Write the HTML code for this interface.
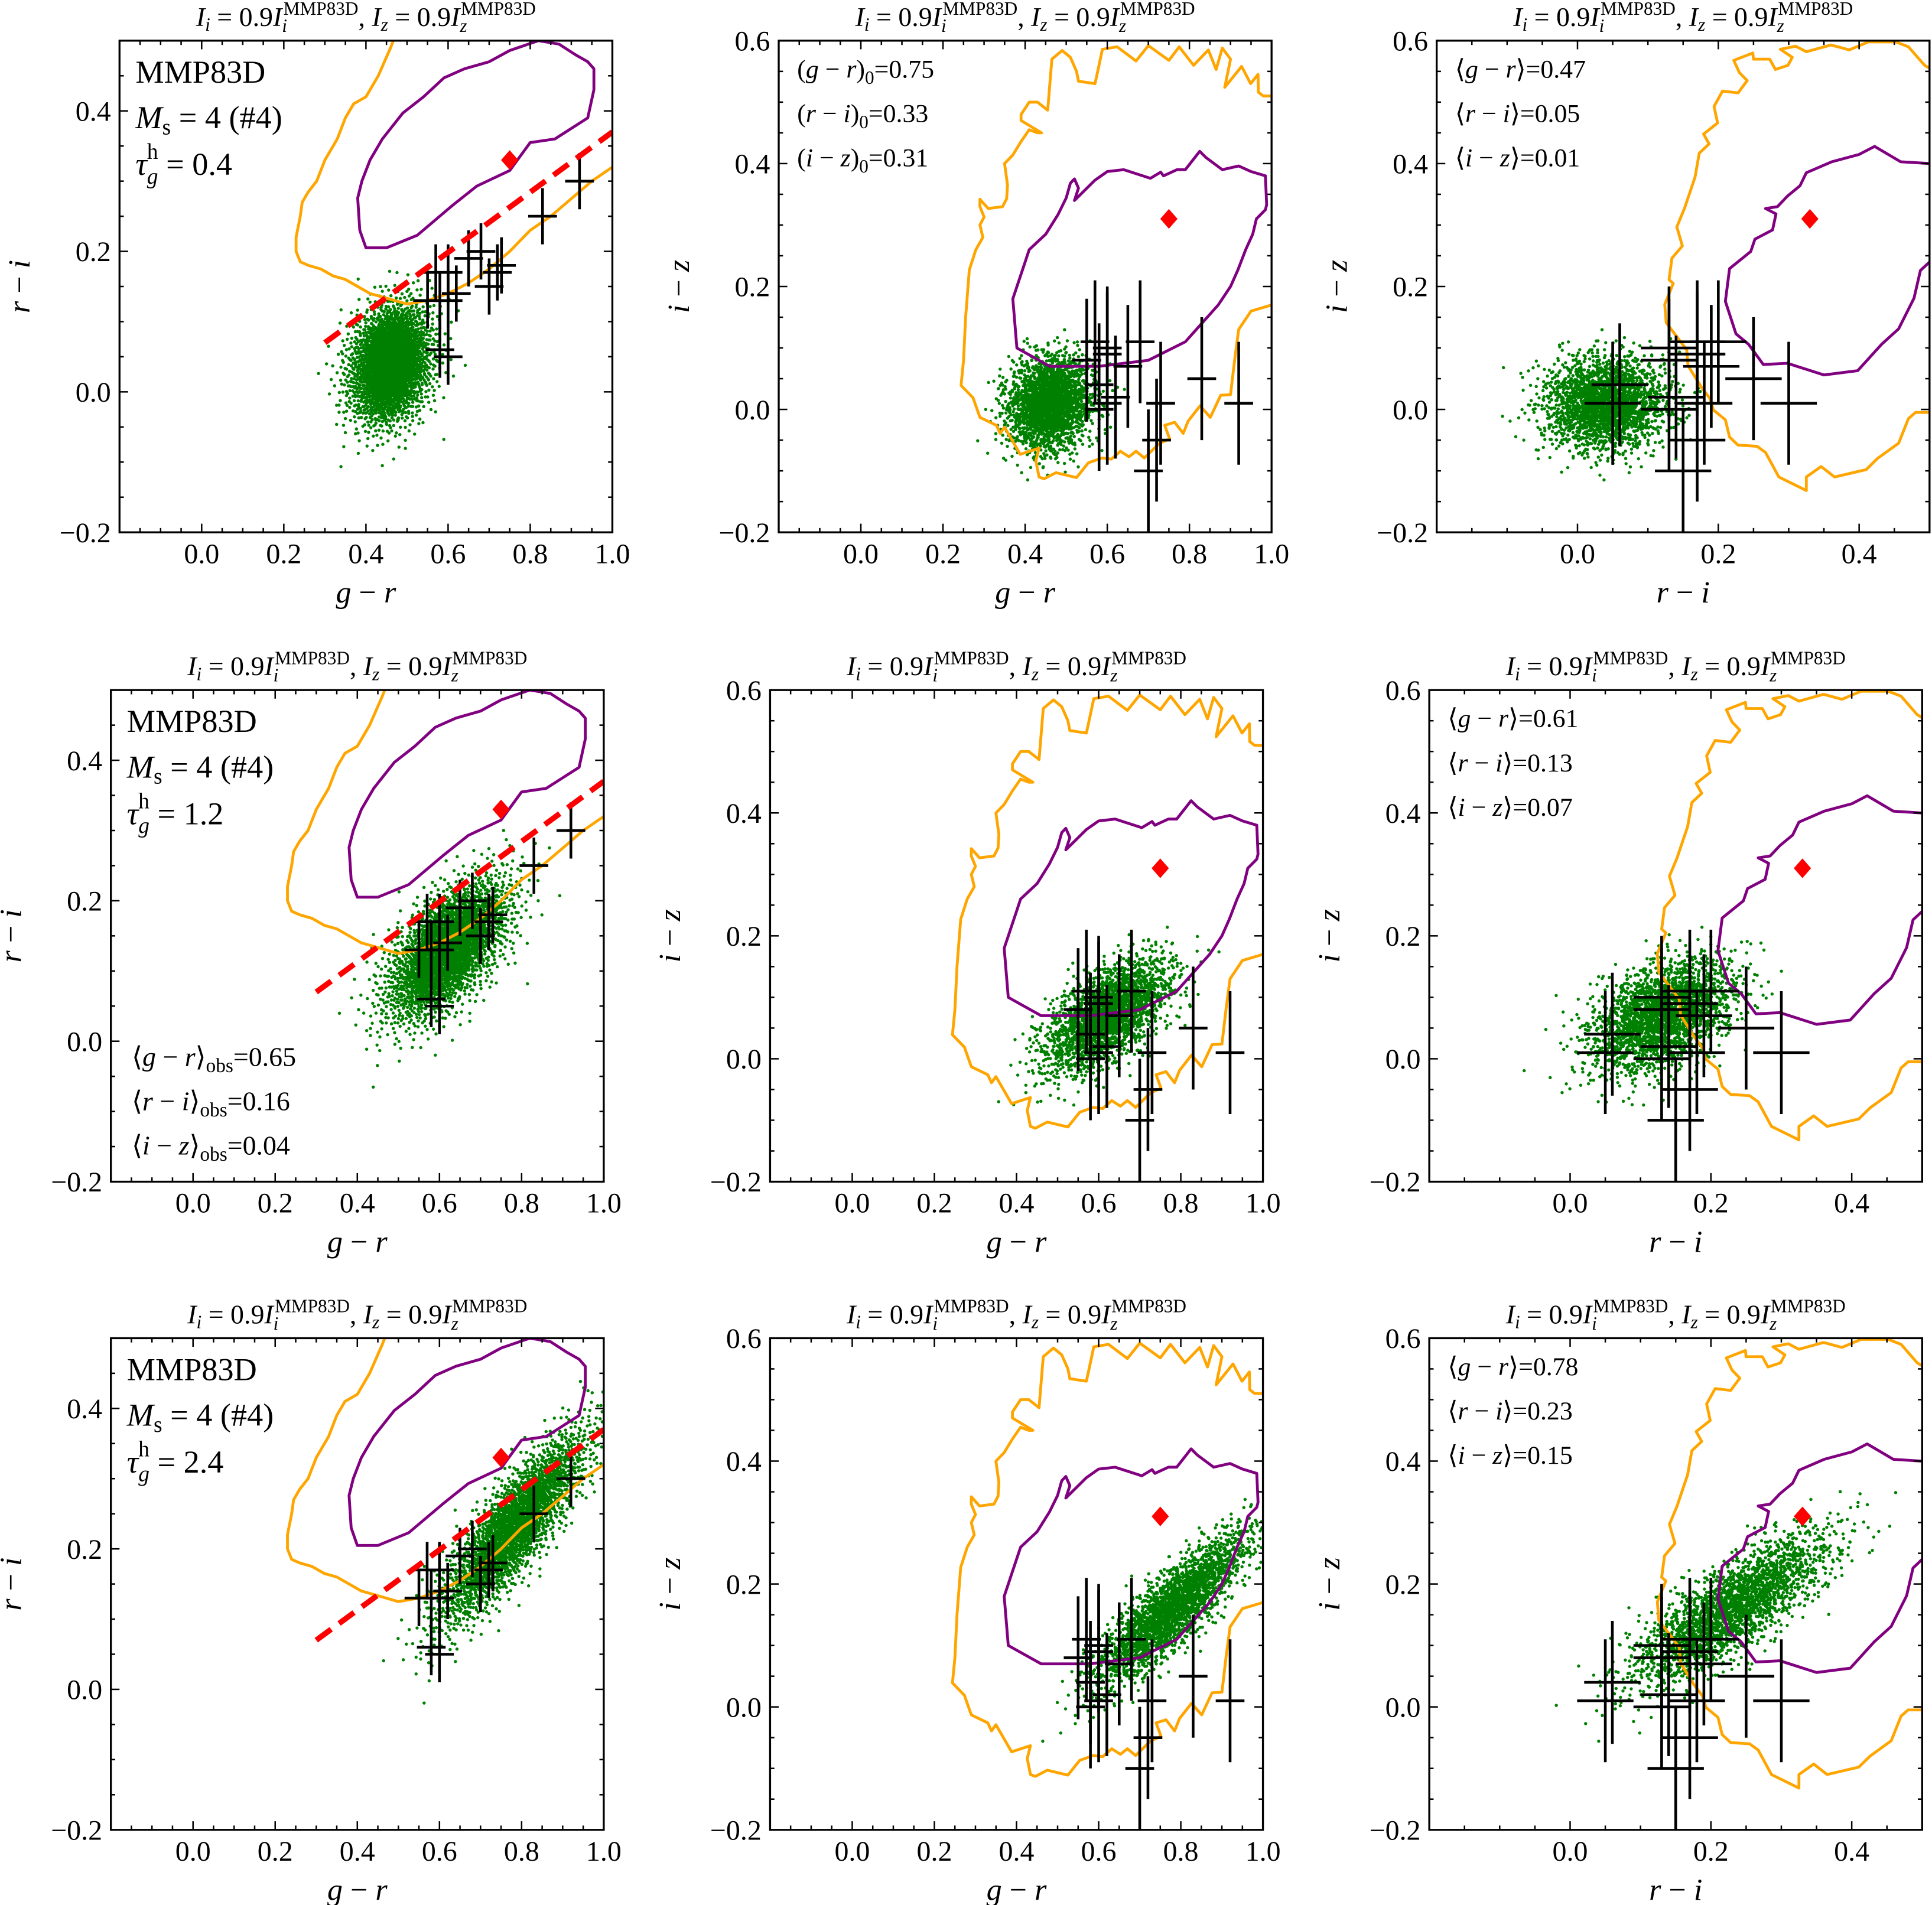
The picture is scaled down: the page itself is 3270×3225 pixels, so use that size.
<!DOCTYPE html>
<html><head><meta charset="utf-8"><title>Colour-colour diagrams</title>
<style>
html,body{margin:0;padding:0;background:#fff;}
svg{display:block;font-family:"Liberation Serif","DejaVu Serif",serif;}
</style></head>
<body>
<svg id="fig" xmlns="http://www.w3.org/2000/svg" width="3270" height="3225" viewBox="0 0 1568 1546" preserveAspectRatio="none"></svg>
<script>
// ---------------- data ----------------
const obsGR=[0.58,0.60,0.55,0.57,0.58,0.60,0.62,0.60,0.65,0.68,0.70,0.72,0.73,0.83,0.92];
const obsRI=[0.06,0.05,0.13,0.17,0.13,0.13,0.14,0.17,0.19,0.20,0.15,0.17,0.18,0.25,0.30];
const obsIZ=[0.04,0.01,0.08,0.11,0.00,0.10,0.02,0.09,0.07,0.11,-0.10,-0.05,0.01,0.05,0.01];
const errGR=[0.035,0.035,0.035,0.035,0.035,0.035,0.035,0.035,0.035,0.035,0.035,0.035,0.035,0.035,0.035];
const errRI=[0.04,0.04,0.04,0.04,0.04,0.04,0.04,0.04,0.04,0.04,0.04,0.04,0.04,0.04,0.04];
const errIZ=[0.1,0.1,0.1,0.1,0.1,0.1,0.1,0.1,0.1,0.1,0.1,0.1,0.1,0.1,0.1];
const cloudMeanGR=[0.46,0.62,0.78];
const cloudMeanRI=[0.04,0.13,0.23];
const cloudMeanIZ=[0.01,0.07,0.16];
const cloudSdGR=[0.05,0.075,0.09];
const cloudSdRI=[0.042,0.05,0.068];
const cloudSdIZ=[0.037,0.045,0.06];
const corrGRRI=[0.2,0.6,0.85];
const corrGRIZ=[0.1,0.6,0.85];
const corrRIIZ=[0.05,0.45,0.8];
const cloudCount=[2500,2500,2500];
const starGR=0.75, starRI=0.33, starIZ=0.31;
const lineGR=[0.3,1.0];
const lineRI=[0.07,0.37];
// contours (g-r vs r-i)
const orangeA_gr=[0.48,0.46,0.43,0.40,0.37,0.35,0.33,0.30,0.28,0.26,0.245,0.24,0.23,0.23,0.24,0.26,0.29,0.32,0.35,0.38,0.41,0.44,0.47,0.50,0.55,0.60,0.65,0.70,0.75,0.80,0.85,0.90,0.95,1.00,1.05];
const orangeA_ri=[0.52,0.49,0.45,0.42,0.41,0.39,0.36,0.33,0.30,0.285,0.27,0.25,0.22,0.20,0.185,0.18,0.175,0.165,0.16,0.15,0.14,0.135,0.13,0.125,0.13,0.14,0.155,0.175,0.20,0.23,0.25,0.275,0.30,0.32,0.34];
const purpleA_gr=[0.82,0.75,0.70,0.64,0.59,0.54,0.49,0.44,0.41,0.39,0.38,0.385,0.40,0.45,0.525,0.61,0.67,0.75,0.80,0.86,0.94,0.955,0.955,0.94,0.91,0.87,0.82];
const purpleA_ri=[0.50,0.486,0.47,0.46,0.447,0.42,0.397,0.36,0.33,0.30,0.276,0.23,0.205,0.205,0.223,0.265,0.293,0.315,0.355,0.36,0.39,0.43,0.46,0.47,0.48,0.495,0.50];
// contours (g-r vs i-z)
const orangeB_gr=[1.05,1.0,0.98,0.968,0.967,0.949,0.927,0.886,0.90,0.88,0.865,0.846,0.81,0.775,0.75,0.70,0.67,0.624,0.588,0.577,0.57,0.53,0.525,0.51,0.49,0.465,0.455,0.43,0.41,0.39,0.39,0.44,0.43,0.41,0.39,0.37,0.35,0.357,0.355,0.345,0.31,0.29,0.29,0.30,0.29,0.297,0.28,0.264,0.255,0.25,0.244,0.273,0.29,0.33,0.339,0.35,0.388,0.434,0.426,0.434,0.446,0.475,0.525,0.554,0.587,0.61,0.632,0.653,0.67,0.69,0.727,0.752,0.74,0.764,0.785,0.797,0.826,0.851,0.876,0.90,0.91,0.92,0.95,1.0,1.05];
const orangeB_iz=[0.51,0.51,0.51,0.516,0.545,0.53,0.558,0.524,0.57,0.588,0.553,0.585,0.56,0.59,0.568,0.592,0.567,0.59,0.586,0.551,0.53,0.534,0.55,0.573,0.584,0.57,0.487,0.50,0.50,0.48,0.47,0.45,0.45,0.455,0.436,0.414,0.40,0.365,0.343,0.33,0.327,0.342,0.33,0.313,0.30,0.28,0.26,0.227,0.15,0.08,0.039,0.019,-0.013,-0.026,-0.039,-0.029,-0.073,-0.063,-0.084,-0.11,-0.113,-0.103,-0.111,-0.087,-0.079,-0.081,-0.068,-0.077,-0.068,-0.079,-0.055,-0.048,-0.026,-0.021,-0.039,-0.019,0.006,-0.013,0.023,0.024,0.08,0.13,0.16,0.17,0.17];
const purpleB_gr=[0.51,0.52,0.53,0.52,0.57,0.60,0.64,0.705,0.73,0.737,0.77,0.79,0.825,0.84,0.88,0.92,0.95,0.985,0.988,0.985,0.963,0.954,0.937,0.918,0.90,0.87,0.79,0.70,0.58,0.46,0.38,0.37,0.40,0.41,0.45,0.48,0.50,0.51];
const purpleB_iz=[0.368,0.375,0.36,0.34,0.373,0.387,0.39,0.376,0.386,0.38,0.39,0.39,0.42,0.41,0.39,0.396,0.387,0.38,0.333,0.325,0.31,0.285,0.26,0.227,0.20,0.17,0.11,0.08,0.07,0.07,0.10,0.18,0.24,0.26,0.285,0.317,0.344,0.368];
// contours (r-i vs i-z)
const orangeC_ri=[0.52,0.5,0.493,0.47,0.452,0.413,0.386,0.36,0.325,0.31,0.288,0.305,0.299,0.281,0.273,0.25,0.249,0.222,0.23,0.241,0.228,0.206,0.194,0.199,0.179,0.187,0.173,0.167,0.152,0.141,0.149,0.134,0.130,0.136,0.124,0.126,0.155,0.157,0.176,0.188,0.193,0.21,0.216,0.228,0.255,0.267,0.286,0.325,0.325,0.346,0.365,0.41,0.426,0.456,0.47,0.48,0.52];
const orangeC_iz=[0.56,0.555,0.56,0.59,0.598,0.598,0.585,0.593,0.582,0.591,0.586,0.573,0.56,0.553,0.57,0.57,0.58,0.568,0.548,0.535,0.515,0.518,0.493,0.466,0.448,0.432,0.417,0.378,0.327,0.297,0.266,0.246,0.211,0.205,0.171,0.141,0.097,0.071,0.036,0.018,-0.001,-0.017,-0.045,-0.058,-0.06,-0.07,-0.11,-0.132,-0.11,-0.093,-0.11,-0.098,-0.08,-0.055,-0.015,-0.005,-0.005];
const purpleC_ri=[0.52,0.5,0.459,0.422,0.40,0.361,0.325,0.316,0.298,0.284,0.267,0.282,0.277,0.252,0.246,0.216,0.21,0.225,0.243,0.264,0.298,0.35,0.398,0.432,0.456,0.478,0.487,0.5,0.52];
const purpleC_iz=[0.40,0.40,0.403,0.428,0.415,0.403,0.385,0.364,0.347,0.33,0.327,0.318,0.292,0.277,0.257,0.229,0.176,0.123,0.106,0.073,0.075,0.056,0.063,0.106,0.131,0.181,0.226,0.24,0.24];
// axis ticks
const xTicksGR=[0.0,0.2,0.4,0.6,0.8,1.0];
const xTickLabelsGR=["0.0","0.2","0.4","0.6","0.8","1.0"];
const xTicksRI=[0.0,0.2,0.4];
const xTickLabelsRI=["0.0","0.2","0.4"];
const yTicksA=[-0.2,0.0,0.2,0.4];
const yTickLabelsA=["\u22120.2","0.0","0.2","0.4"];
const yTicksB=[-0.2,0.0,0.2,0.4,0.6];
const yTickLabelsB=["\u22120.2","0.0","0.2","0.4","0.6"];
const tauValues=["0.4","1.2","2.4"];
const meanGRtxt=["0.47","0.61","0.78"];
const meanRItxt=["0.05","0.13","0.23"];
const meanIZtxt=["0.01","0.07","0.15"];

// ---------------- layout ----------------
const NS="http://www.w3.org/2000/svg";
const svg=document.getElementById('fig');
const rowTop=[33,560,1086];
const colLeft=[[97,632,1166],[90,625,1160],[90,625,1160]];
const PW=400, PH=399;
const xDom=[[-0.2,1.0],[-0.2,1.0],[-0.2,0.5]];
const yDom=[[-0.2,0.5],[-0.2,0.6],[-0.2,0.6]];
function sx(r,c,v){return colLeft[r][c]+(v-xDom[c][0])/(xDom[c][1]-xDom[c][0])*PW;}
function sy(r,c,v){return rowTop[r]+PH-(v-yDom[c][0])/(yDom[c][1]-yDom[c][0])*PH;}
function mk(tag,attrs,parent){const e=document.createElementNS(NS,tag);for(const k in attrs)e.setAttribute(k,attrs[k]);(parent||svg).appendChild(e);return e;}
function halton(i,b){let f=1,r=0;while(i>0){f/=b;r+=f*(i%b);i=Math.floor(i/b);}return r;}

const colNames=['gr-vs-ri','gr-vs-iz','ri-vs-iz'];
for(let r=0;r<3;r++){
  const r12=corrGRRI[r], r13=corrGRIZ[r], r23=corrRIIZ[r];
  const L22=Math.sqrt(1-r12*r12), L32=(r23-r13*r12)/L22, L33=Math.sqrt(Math.max(0,1-r13*r13-L32*L32));
  const GR=[],RI=[],IZ=[];
  for(let i=1;i<=cloudCount[r];i++){
    const u1=halton(i,2)||1e-6,u2=halton(i,3),u3=halton(i,5)||1e-6,u4=halton(i,7);
    const a=Math.sqrt(-2*Math.log(u1)), z1=a*Math.cos(2*Math.PI*u2), z2=a*Math.sin(2*Math.PI*u2);
    const z3=Math.sqrt(-2*Math.log(u3))*Math.cos(2*Math.PI*u4);
    GR.push(cloudMeanGR[r]+cloudSdGR[r]*z1);
    RI.push(cloudMeanRI[r]+cloudSdRI[r]*(r12*z1+L22*z2));
    IZ.push(cloudMeanIZ[r]+cloudSdIZ[r]*(r13*z1+L32*z2+L33*z3));
  }
  for(let c=0;c<3;c++){
    const L=colLeft[r][c], T=rowTop[r];
    const g=mk('g',{});
    
    
    const cid='clip'+r+c;
    const cp=mk('clipPath',{id:cid},g);
    mk('rect',{x:L,y:T,width:PW,height:PH},cp);
    const plot=mk('g',{'clip-path':'url(#'+cid+')'},g);
    const XS=c===2?RI:GR, YS=c===0?RI:IZ;
    const sg=mk('g',{fill:'#008000'},plot);
    
    
    for(let i=0;i<XS.length;i++){
      mk('circle',{cx:sx(r,c,XS[i]).toFixed(1),cy:sy(r,c,YS[i]).toFixed(1),r:1.3},sg);
    }
    let ox,oy,px,py,closeO;
    if(c===0){ox=orangeA_gr;oy=orangeA_ri;px=purpleA_gr;py=purpleA_ri;closeO=false;}
    else if(c===1){ox=orangeB_gr;oy=orangeB_iz;px=purpleB_gr;py=purpleB_iz;closeO=true;}
    else {ox=orangeC_ri;oy=orangeC_iz;px=purpleC_ri;py=purpleC_iz;closeO=true;}
    let d='';for(let i=0;i<ox.length;i++)d+=(i?'L':'M')+sx(r,c,ox[i]).toFixed(1)+' '+sy(r,c,oy[i]).toFixed(1);
    if(closeO)d+='Z';
    const oc=mk('path',{d:d,fill:'none',stroke:'#ffa500','stroke-width':2.3,'stroke-linejoin':'round'},plot);
    
    
    d='';for(let i=0;i<px.length;i++)d+=(i?'L':'M')+sx(r,c,px[i]).toFixed(1)+' '+sy(r,c,py[i]).toFixed(1);
    d+='Z';
    const pc=mk('path',{d:d,fill:'none',stroke:'#800080','stroke-width':2.3,'stroke-linejoin':'round'},plot);
    
    
    const ex=c===2?obsRI:obsGR, ey=c===0?obsRI:obsIZ, eex=c===2?errRI:errGR, eey=c===0?errRI:errIZ;
    const eg=mk('g',{stroke:'#000','stroke-width':2.2},plot);
    
    
    for(let i=0;i<ex.length;i++){
      const l1=mk('line',{x1:sx(r,c,ex[i]-eex[i]),x2:sx(r,c,ex[i]+eex[i]),y1:sy(r,c,ey[i]),y2:sy(r,c,ey[i])},eg);
      
      const l2=mk('line',{x1:sx(r,c,ex[i]),x2:sx(r,c,ex[i]),y1:sy(r,c,ey[i]-eey[i]),y2:sy(r,c,ey[i]+eey[i])},eg);
      
    }
    if(c===0){
      const rl=mk('line',{x1:sx(r,c,lineGR[0]),y1:sy(r,c,lineRI[0]),x2:sx(r,c,lineGR[1]),y2:sy(r,c,lineRI[1]),stroke:'#ff0000','stroke-width':4.5,'stroke-dasharray':'15 8'},plot);
      
      
    }
    const dxv=c===2?starRI:starGR, dyv=c===0?starRI:starIZ;
    const cx=sx(r,c,dxv), cy=sy(r,c,dyv);
    const dm=mk('polygon',{points:`${cx},${cy-8} ${cx+7},${cy} ${cx},${cy+8} ${cx-7},${cy}`,fill:'#ff0000'},plot);
    
    
    const fr=mk('rect',{x:L,y:T,width:PW,height:PH,fill:'none',stroke:'#000','stroke-width':1.6},g);
    
    
    const tg=mk('g',{stroke:'#000','stroke-width':1.2},g);
    
    
    const x0=xDom[c][0],x1=xDom[c][1],y0=yDom[c][0],y1=yDom[c][1];
    for(let k=Math.round(x0/0.05);k<=Math.round(x1/0.05);k++){
      const v=k*0.05, X=sx(r,c,v), len=(k%4===0)?7:3.5;
      mk('line',{x1:X,x2:X,y1:T+PH,y2:T+PH-len},tg);
      mk('line',{x1:X,x2:X,y1:T,y2:T+len},tg);
    }
    for(let k=Math.round(y0/0.05);k<=Math.round(y1/0.05);k++){
      const v=k*0.05, Y=sy(r,c,v), len=(k%4===0)?7:3.5;
      mk('line',{x1:L,x2:L+len,y1:Y,y2:Y},tg);
      mk('line',{x1:L+PW,x2:L+PW-len,y1:Y,y2:Y},tg);
    }
    const xt=c===2?xTicksRI:xTicksGR, xl=c===2?xTickLabelsRI:xTickLabelsGR;
    for(let i=0;i<xt.length;i++){
      const t=mk('text',{x:sx(r,c,xt[i]),y:T+PH+25,'text-anchor':'middle','font-size':23},g);
      t.textContent=xl[i];
      
      
    }
    const yt=c===0?yTicksA:yTicksB, yl=c===0?yTickLabelsA:yTickLabelsB;
    for(let i=0;i<yt.length;i++){
      const t=mk('text',{x:L-7,y:sy(r,c,yt[i])+8,'text-anchor':'end','font-size':23},g);
      t.textContent=yl[i];
      
      
    }
    const xlab=mk('text',{x:L+PW/2,y:T+PH+57,'text-anchor':'middle','font-size':25},g);
    xlab.innerHTML=c===2?'<tspan font-style="italic">r</tspan> \u2212 <tspan font-style="italic">i</tspan>':'<tspan font-style="italic">g</tspan> \u2212 <tspan font-style="italic">r</tspan>';
    
    
    const ylab=mk('text',{x:0,y:0,'text-anchor':'middle','font-size':25,transform:`translate(${L-73},${T+PH/2}) rotate(-90)`},g);
    ylab.innerHTML=c===0?'<tspan font-style="italic">r</tspan> \u2212 <tspan font-style="italic">i</tspan>':'<tspan font-style="italic">i</tspan> \u2212 <tspan font-style="italic">z</tspan>';
    
    
    const tt=mk('text',{x:L+PW/2,y:T-12,'text-anchor':'middle','font-size':22},g);
    tt.innerHTML='<tspan font-style="italic">I</tspan><tspan font-style="italic" font-size="15" dy="4">i</tspan><tspan dy="-4"> = 0.9</tspan><tspan font-style="italic">I</tspan><tspan font-style="italic" font-size="15" dy="5">i</tspan><tspan font-size="15" dx="-3" dy="-14">MMP83D</tspan><tspan dy="9">, </tspan><tspan font-style="italic">I</tspan><tspan font-style="italic" font-size="15" dy="4">z</tspan><tspan dy="-4"> = 0.9</tspan><tspan font-style="italic">I</tspan><tspan font-style="italic" font-size="15" dy="5">z</tspan><tspan font-size="15" dx="-5" dy="-14">MMP83D</tspan>';
    
    
    if(c===0){
      const ax=L+13;
      const a1=mk('text',{x:ax,y:T+34,'font-size':26},g);a1.textContent='MMP83D';
      
      
      const a2=mk('text',{x:ax,y:T+71,'font-size':26},g);
      a2.innerHTML='<tspan font-style="italic">M</tspan><tspan font-size="18" dy="5">s</tspan><tspan dy="-5"> = 4 (#4)</tspan>';
      
      
      const a3=mk('text',{x:ax,y:T+109,'font-size':26},g);
      a3.innerHTML='<tspan font-style="italic">\u03c4</tspan><tspan font-style="italic" font-size="18" dy="7">g</tspan><tspan font-size="18" dx="-9" dy="-20">h</tspan><tspan dy="13"> = '+tauValues[r]+'</tspan>';
      
      
      if(r===1){
        const obs=[['g','r','0.65'],['r','i','0.16'],['i','z','0.04']];
        for(let k=0;k<3;k++){
          const o=mk('text',{x:L+17,y:T+305+k*36,'font-size':22},g);
          o.innerHTML='\u27e8<tspan font-style="italic">'+obs[k][0]+'</tspan> \u2212 <tspan font-style="italic">'+obs[k][1]+'</tspan>\u27e9<tspan font-size="16" dy="5">obs</tspan><tspan dy="-5">='+obs[k][2]+'</tspan>';
          
          
        }
      }
    }
    if(c===1 && r===0){
      const ints=[['g','r','0.75'],['r','i','0.33'],['i','z','0.31']];
      for(let k=0;k<3;k++){
        const o=mk('text',{x:L+15,y:T+30+k*36,'font-size':21},g);
        o.innerHTML='(<tspan font-style="italic">'+ints[k][0]+'</tspan> \u2212 <tspan font-style="italic">'+ints[k][1]+'</tspan>)<tspan font-size="15" dy="5">0</tspan><tspan dy="-5">='+ints[k][2]+'</tspan>';
        
        
      }
    }
    if(c===2){
      const ms=[['g','r',meanGRtxt[r]],['r','i',meanRItxt[r]],['i','z',meanIZtxt[r]]];
      for(let k=0;k<3;k++){
        const o=mk('text',{x:L+15,y:T+30+k*36,'font-size':21},g);
        o.innerHTML='\u27e8<tspan font-style="italic">'+ms[k][0]+'</tspan> \u2212 <tspan font-style="italic">'+ms[k][1]+'</tspan>\u27e9='+ms[k][2];
        
        
      }
    }
  }
}
</script>
</body></html>
